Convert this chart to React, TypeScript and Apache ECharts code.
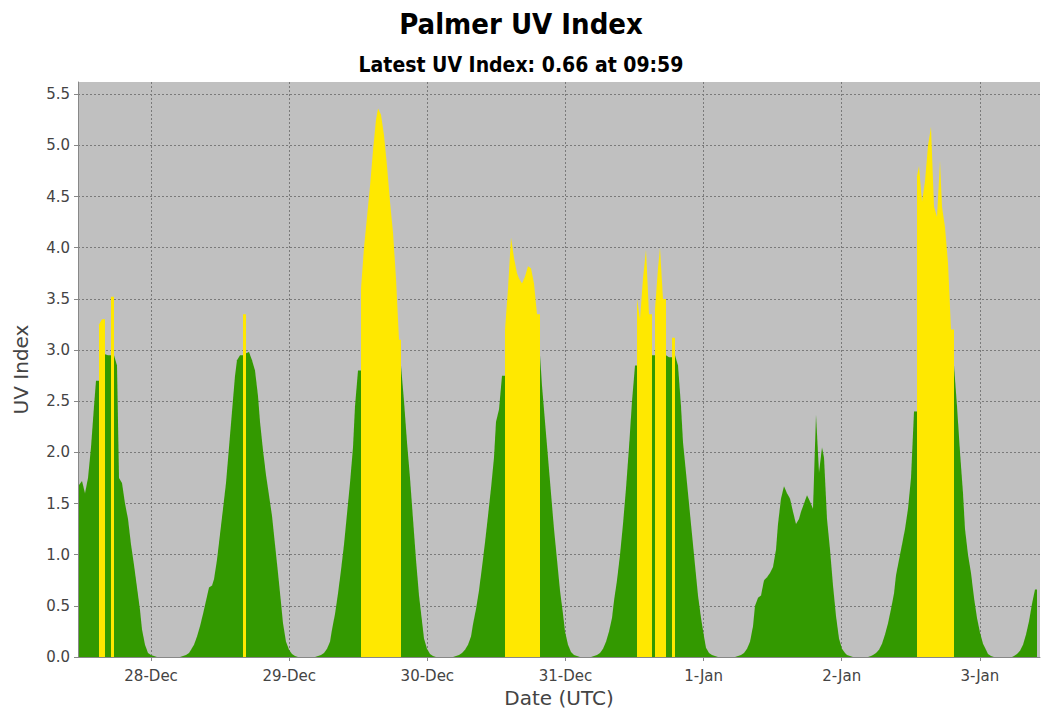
import React, { useEffect, useRef } from "react";
import * as echarts from "echarts";

// UV index, half-hour readings (each value covers [t, t + 0.5h))
// 27-Dec from 11:30 UTC
const uv27Dec = [1.68, 1.72, 1.6, 1.75, 2.05, 2.45, 2.7, 3.25, 3.3, 2.96, 2.95, 3.52, 2.95, 2.85, 1.75, 1.7, 1.5, 1.35, 1.1, 0.9, 0.68, 0.46, 0.27, 0.12, 0.04];
// full days from 00:00 UTC
const uv28Dec = [0.02, 0.01, 0, 0, 0, 0, 0, 0, 0, 0, 0, 0.01, 0.02, 0.04, 0.07, 0.12, 0.2, 0.3, 0.42, 0.55, 0.68, 0.7, 0.76, 0.95, 1.2, 1.45, 1.7, 2.05, 2.4, 2.75, 2.9, 2.95, 3.35, 2.97, 2.98, 2.9, 2.8, 2.55, 2.3, 2.02, 1.78, 1.58, 1.38, 1.1, 0.82, 0.53, 0.33, 0.15];
const uv29Dec = [0.07, 0.03, 0.01, 0, 0, 0, 0, 0, 0, 0, 0.01, 0.02, 0.04, 0.08, 0.15, 0.27, 0.42, 0.62, 0.85, 1.1, 1.4, 1.7, 2.05, 2.45, 2.8, 3.6, 4.0, 4.3, 4.6, 4.95, 5.25, 5.36, 5.3, 5.1, 4.8, 4.45, 4.15, 3.7, 3.1, 2.85, 2.5, 2.1, 1.75, 1.35, 0.95, 0.6, 0.35, 0.18];
const uv30Dec = [0.08, 0.03, 0.01, 0, 0, 0, 0, 0, 0, 0, 0.01, 0.02, 0.04, 0.07, 0.12, 0.2, 0.32, 0.47, 0.65, 0.88, 1.12, 1.38, 1.65, 1.95, 2.3, 2.42, 2.75, 3.2, 3.6, 4.1, 3.9, 3.75, 3.7, 3.65, 3.72, 3.82, 3.8, 3.65, 3.35, 2.95, 2.65, 2.3, 1.95, 1.6, 1.25, 0.95, 0.65, 0.42];
const uv31Dec = [0.25, 0.12, 0.05, 0.02, 0.01, 0, 0, 0, 0, 0, 0.01, 0.02, 0.04, 0.08, 0.15, 0.25, 0.38, 0.55, 0.75, 1.0, 1.3, 1.65, 2.05, 2.5, 2.85, 3.5, 3.3, 3.7, 3.98, 3.35, 2.95, 3.4, 3.8, 4.0, 3.5, 2.95, 2.93, 3.12, 2.95, 2.85, 2.45, 2.1, 1.8, 1.5, 1.2, 0.9, 0.6, 0.38];
const uv1Jan = [0.2, 0.09, 0.04, 0.02, 0.01, 0, 0, 0, 0, 0, 0, 0, 0.01, 0.02, 0.04, 0.08, 0.15, 0.3, 0.5, 0.58, 0.6, 0.75, 0.78, 0.82, 0.88, 1.05, 1.3, 1.55, 1.67, 1.6, 1.55, 1.42, 1.3, 1.35, 1.42, 1.5, 1.58, 1.52, 1.45, 2.37, 1.8, 2.05, 1.95, 1.35, 1.05, 0.7, 0.4, 0.18];
const uv2Jan = [0.08, 0.04, 0.02, 0.01, 0, 0, 0, 0, 0, 0, 0.01, 0.02, 0.04, 0.07, 0.13, 0.22, 0.33, 0.47, 0.62, 0.8, 0.95, 1.1, 1.25, 1.45, 1.75, 2.4, 4.7, 4.8, 4.45, 4.65, 5.0, 5.18, 4.4, 4.3, 4.85, 4.4, 4.2, 3.85, 3.2, 2.85, 2.45, 2.0, 1.6, 1.25, 1.0, 0.82, 0.58, 0.38];
// 3-Jan from 00:00 to 09:59 UTC
const uv3Jan = [0.24, 0.13, 0.07, 0.03, 0.01, 0, 0, 0, 0, 0, 0, 0, 0.01, 0.03, 0.06, 0.12, 0.22, 0.35, 0.52, 0.66];

// hours relative to 28-Dec 00:00 UTC
const dayTicks = [0, 24, 48, 72, 96, 120, 144];
const dayLabels = ["28-Dec", "29-Dec", "30-Dec", "31-Dec", "1-Jan", "2-Jan", "3-Jan"];
const yTicks = [0, 0.5, 1, 1.5, 2, 2.5, 3, 3.5, 4, 4.5, 5, 5.5];

const STEP = 0.5;
const THRESHOLD = 3;
const GREEN = "#339900";
const YELLOW = "#FFE800";

// [time (h), value, value to join towards at the end of the interval]
function buildData(): number[][] {
  const flat: number[][] = [];
  const segments: [number, number[]][] = [
    [-24 + 11.5, uv27Dec],
    [0, uv28Dec],
    [24, uv29Dec],
    [48, uv30Dec],
    [72, uv31Dec],
    [96, uv1Jan],
    [120, uv2Jan],
    [144, uv3Jan],
  ];
  segments.forEach(([start, arr]) => {
    arr.forEach((v, i) => flat.push([start + i * STEP, v]));
  });
  return flat.map(([t, v], i) => {
    const next = i + 1 < flat.length ? flat[i + 1][1] : v;
    const sameClass = (v >= THRESHOLD) === (next >= THRESHOLD);
    return [t, v, sameClass ? next : v];
  });
}

export default function App() {
  const ref = useRef<HTMLDivElement>(null);
  useEffect(() => {
    if (!ref.current) return;
    const chart = echarts.init(ref.current, undefined, { renderer: "svg" });
    const labelFont = "'DejaVu Sans', sans-serif";
    const titleFont = "'DejaVu Sans Condensed', 'DejaVu Sans', sans-serif";
    chart.setOption({
      animation: false,
      backgroundColor: "#ffffff",
      title: [
        {
          text: "Palmer UV Index",
          left: "center",
          top: 4,
          textStyle: { fontFamily: titleFont, fontWeight: "bold", fontSize: 29, color: "#000" },
        },
        {
          text: "Latest UV Index: 0.66 at 09:59",
          left: "center",
          top: 49,
          textStyle: { fontFamily: titleFont, fontWeight: "bold", fontSize: 21, color: "#000" },
        },
      ],
      grid: {
        left: 78,
        right: 2,
        top: 82,
        bottom: 56,
        show: true,
        backgroundColor: "#c0c0c0",
        borderWidth: 0,
      },
      xAxis: {
        type: "value",
        min: -12.7,
        max: 154.45,
        name: "Date (UTC)",
        nameLocation: "middle",
        nameGap: 21,
        nameTextStyle: { fontFamily: labelFont, fontSize: 20, color: "#444" },
        axisLine: { show: true, onZero: false, lineStyle: { color: "#888", width: 1 } },
        axisTick: { show: true, length: 4, lineStyle: { color: "#888" }, customValues: dayTicks },
        axisLabel: {
          customValues: dayTicks,
          margin: 11,
          fontFamily: labelFont,
          fontSize: 15,
          color: "#444",
          formatter: (val: number) => dayLabels[Math.round(val / 24)] ?? "",
        },
        splitLine: { show: true, lineStyle: { color: "#7a7a7a", type: [2, 2], width: 1 } },
      },
      yAxis: {
        type: "value",
        min: 0,
        max: 5.62,
        name: "UV Index",
        nameLocation: "middle",
        nameRotate: 90,
        nameGap: 47,
        nameTextStyle: { fontFamily: labelFont, fontSize: 20, color: "#444" },
        axisLine: { show: true, onZero: false, lineStyle: { color: "#888", width: 1 } },
        axisTick: { show: true, length: 4, lineStyle: { color: "#888" }, customValues: yTicks },
        axisLabel: {
          customValues: yTicks,
          margin: 8,
          fontFamily: labelFont,
          fontSize: 15,
          color: "#444",
          formatter: (val: number) => val.toFixed(1),
        },
        splitLine: { show: true, lineStyle: { color: "#7a7a7a", type: [2, 2], width: 1 } },
      },
      series: [
        {
          type: "custom",
          clip: true,
          data: buildData(),
          encode: { x: 0, y: 1 },
          renderItem: (params: any, api: any) => {
            const t = api.value(0);
            const v = api.value(1);
            const vn = api.value(2);
            const pa = api.coord([t, v]);
            const pb = api.coord([t + STEP, vn]);
            const base = api.coord([t, 0])[1];
            const x0 = Math.round(pa[0]);
            const x1 = Math.round(pb[0]);
            return {
              type: "polygon",
              shape: {
                points: [
                  [x0, base],
                  [x0, pa[1]],
                  [x1, pb[1]],
                  [x1, base],
                ],
              },
              style: { fill: v >= THRESHOLD ? YELLOW : GREEN, stroke: "none" },
            };
          },
        },
      ],
    });
    return () => chart.dispose();
  }, []);
  return (
    <div
      ref={ref}
      style={{ position: "fixed", left: 0, top: 0, width: 1042, height: 713 }}
    />
  );
}
